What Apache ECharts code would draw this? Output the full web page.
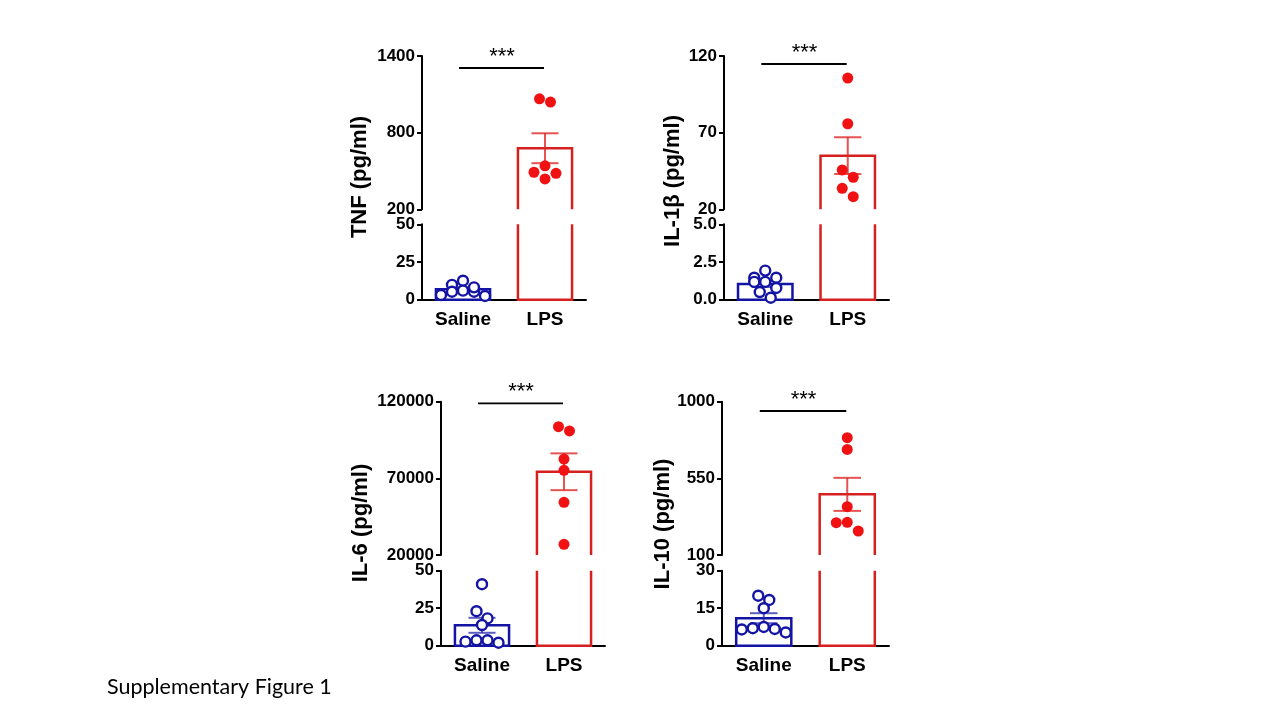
<!DOCTYPE html>
<html>
<head>
<meta charset="utf-8">
<script src="https://cdn.jsdelivr.net/npm/echarts@6/dist/echarts.min.js"></script>
<style>
  html, body { margin: 0; padding: 0; background: #fff; }
  #chart { width: 1280px; height: 720px; }
</style>
</head>
<body>
<div id="chart"></div>
<script>
// groups on the x axis
var categories = ['Saline', 'LPS'];

// TNF (pg/ml)
var tnfSaline = [9.8, 12.6, 6.0, 5.3, 2.5, 3.1, 5.3, 8.2];
var tnfLPS = [1039, 1065, 540, 490, 482, 438];
var tnfMean = [6.9, 678];
var tnfSem = [1.2, 117];
var tnfUpperTicks = [200, 800, 1400];
var tnfLowerTicks = [0, 25, 50];

// IL-1beta (pg/ml)
var il1bSaline = [1.46, 1.93, 1.46, 1.18, 1.18, 0.78, 0.51, 0.13];
var il1bLPS = [105.6, 75.8, 45.7, 40.9, 33.7, 28.2];
var il1bMean = [1.04, 55];
var il1bSem = [0.2, 12];
var il1bUpperTicks = [20, 70, 120];
var il1bLowerTicks = [0, 2.5, 5];

// IL-6 (pg/ml)
var il6Saline = [41, 23, 18.2, 13.8, 3.6, 2.0, 2.7, 3.6];
var il6LPS = [103700, 100900, 82600, 75250, 54380, 26980];
var il6Mean = [13.6, 74300];
var il6Sem = [5, 12000];
var il6UpperTicks = [20000, 70000, 120000];
var il6LowerTicks = [0, 25, 50];

// IL-10 (pg/ml)
var il10Saline = [20, 18.3, 15, 7.5, 6.7, 5.3, 6.5, 7];
var il10LPS = [788.6, 720, 383.6, 292, 289.6, 240.9];
var il10Mean = [11, 456];
var il10Sem = [2, 97];
var il10UpperTicks = [100, 550, 1000];
var il10LowerTicks = [0, 15, 30];

var FONT = "'Liberation Sans', Arial, sans-serif";
var BLUE = '#1414A4';
var RED_BAR = '#D62020';
var RED_DOT = '#F01212';
var ERR_COLORS = ['rgba(40,40,170,0.75)', 'rgba(222,40,40,0.8)'];
var BAR_COLORS = [BLUE, RED_BAR];

// panel data + layout (pixels)
var panels = [
  { name: 'TNF (pg/ml)', groups: [tnfSaline, tnfLPS], mean: tnfMean, sem: tnfSem, up: tnfUpperTicks, low: tnfLowerTicks, lowDigits: 0,
    x0: 422, x1: 586, yTop: 56, yBrkA: 209.3, yBrkB: 224.3, yBot: 299.7, titleX: 360, titleY: 177, sigOff: 12 },
  { name: 'IL-1β (pg/ml)', groups: [il1bSaline, il1bLPS], mean: il1bMean, sem: il1bSem, up: il1bUpperTicks, low: il1bLowerTicks, lowDigits: 1,
    x0: 724, x1: 889, yTop: 56, yBrkA: 209.3, yBrkB: 224.3, yBot: 299.7, titleX: 673, titleY: 181, sigOff: 8 },
  { name: 'IL-6 (pg/ml)', groups: [il6Saline, il6LPS], mean: il6Mean, sem: il6Sem, up: il6UpperTicks, low: il6LowerTicks, lowDigits: 0,
    x0: 441, x1: 605, yTop: 401.7, yBrkA: 555, yBrkB: 570.7, yBot: 645.7, titleX: 361, titleY: 523, sigOff: 1.6 },
  { name: 'IL-10 (pg/ml)', groups: [il10Saline, il10LPS], mean: il10Mean, sem: il10Sem, up: il10UpperTicks, low: il10LowerTicks, lowDigits: 0,
    x0: 722, x1: 889, yTop: 401.7, yBrkA: 555, yBrkB: 570.7, yBot: 645.7, titleX: 663, titleY: 524, sigOff: 9.3 }
];

function clamp(v, a, b) { return Math.max(a, Math.min(b, v)); }

// open-ended bar outline, so the broken axis shows the bar running through the gap
function renderBar(params, api) {
  var cat = api.value(0), val = api.value(1);
  var cs = params.coordSys;
  var topPt = api.coord([cat, val]);
  var basePt = api.coord([cat, 0]);
  var yMin = cs.y, yMax = cs.y + cs.height;
  if (topPt[1] > yMax + 0.5) return null;
  var w = api.size([1, 0])[0] * 0.66;
  var x0 = topPt[0] - w / 2, x1 = topPt[0] + w / 2;
  var topIn = topPt[1] >= yMin - 0.5;
  var baseIn = basePt[1] <= yMax + 0.5;
  var yt = clamp(topPt[1], yMin, yMax), yb = clamp(basePt[1], yMin, yMax);
  var style = { stroke: BAR_COLORS[cat], lineWidth: 2.5, fill: 'none' };
  if (topIn && baseIn) {
    return { type: 'rect', shape: { x: x0, y: yt, width: w, height: yb - yt }, style: style };
  }
  var pts;
  if (topIn) pts = [[x0, yb], [x0, yt], [x1, yt], [x1, yb]];
  else if (baseIn) pts = [[x0, yt], [x0, yb], [x1, yb], [x1, yt]];
  else {
    return { type: 'group', children: [
      { type: 'line', shape: { x1: x0, y1: yt, x2: x0, y2: yb }, style: style },
      { type: 'line', shape: { x1: x1, y1: yt, x2: x1, y2: yb }, style: style }
    ] };
  }
  return { type: 'polyline', shape: { points: pts }, style: style };
}

function renderErr(params, api) {
  var cat = api.value(0), m = api.value(1), s = api.value(2);
  var cs = params.coordSys;
  var yMin = cs.y, yMax = cs.y + cs.height;
  var hi = api.coord([cat, m + s]), lo = api.coord([cat, m - s]);
  if (hi[1] > yMax || lo[1] < yMin) return null;
  var cw = api.size([1, 0])[0] * 0.33;
  var x = hi[0];
  var style = { stroke: ERR_COLORS[cat], lineWidth: 2 };
  var kids = [{ type: 'line', shape: { x1: x, y1: clamp(hi[1], yMin, yMax), x2: x, y2: clamp(lo[1], yMin, yMax) }, style: style }];
  if (hi[1] >= yMin) kids.push({ type: 'line', shape: { x1: x - cw / 2, y1: hi[1], x2: x + cw / 2, y2: hi[1] }, style: style });
  if (lo[1] <= yMax) kids.push({ type: 'line', shape: { x1: x - cw / 2, y1: lo[1], x2: x + cw / 2, y2: lo[1] }, style: style });
  return { type: 'group', children: kids };
}

function makeSigRender(off) {
  return function (params, api) {
    var cs = params.coordSys;
    var a = api.coord([0, 0]), b = api.coord([1, 0]);
    var y = cs.y + off;
    return { type: 'group', children: [
      { type: 'line', shape: { x1: a[0] - 4, y1: y, x2: b[0] - 1, y2: y }, style: { stroke: '#000', lineWidth: 1.8 } },
      { type: 'text', style: { x: (a[0] + b[0]) / 2 - 2, y: y - 11, text: '***', fill: '#000', fontSize: 22, fontFamily: FONT, align: 'center', verticalAlign: 'middle' } }
    ] };
  };
}

var tickLabel = { color: '#000', fontWeight: 'bold', fontSize: 17, fontFamily: FONT, margin: 7 };
var axisLine = { show: true, lineStyle: { color: '#000', width: 2 } };

function buildOption(offsets) {
  var grid = [], xAxis = [], yAxis = [], series = [], graphic = [];
  panels.forEach(function (p, i) {
    var gu = 2 * i, gl = 2 * i + 1;
    grid.push({ left: p.x0, top: p.yTop, width: p.x1 - p.x0, height: p.yBrkA - p.yTop });
    grid.push({ left: p.x0, top: p.yBrkB, width: p.x1 - p.x0, height: p.yBot - p.yBrkB });
    xAxis.push({ type: 'category', gridIndex: gu, data: categories, show: false });
    xAxis.push({ type: 'category', gridIndex: gl, data: categories,
      axisLine: axisLine,
      axisTick: { alignWithLabel: true, length: 5, lineStyle: { color: '#000', width: 2 } },
      axisLabel: { color: '#000', fontWeight: 'bold', fontSize: 19, fontFamily: FONT, margin: 11 } });
    yAxis.push({ type: 'value', gridIndex: gu, min: p.up[0], max: p.up[p.up.length - 1],
      axisLine: axisLine, splitLine: { show: false },
      axisTick: { show: true, length: 5, customValues: p.up, lineStyle: { color: '#000', width: 2 } },
      axisLabel: Object.assign({ customValues: p.up, formatter: function (v) { return String(v); } }, tickLabel) });
    yAxis.push({ type: 'value', gridIndex: gl, min: p.low[0], max: p.low[p.low.length - 1],
      axisLine: axisLine, splitLine: { show: false },
      axisTick: { show: true, length: 5, customValues: p.low, lineStyle: { color: '#000', width: 2 } },
      axisLabel: Object.assign({ customValues: p.low, formatter: (function (d) { return function (v) { return v.toFixed(d); }; })(p.lowDigits) }, tickLabel) });

    var barData = p.mean.map(function (m, k) { return [k, m]; });
    var errData = p.mean.map(function (m, k) { return [k, m, p.sem[k]]; });
    [gu, gl].forEach(function (g) {
      series.push({ type: 'custom', xAxisIndex: g, yAxisIndex: g, data: barData, renderItem: renderBar, clip: false, silent: true });
      series.push({ type: 'custom', xAxisIndex: g, yAxisIndex: g, data: errData, renderItem: renderErr, clip: false, silent: true });
    });

    // dots: each point goes to the segment that holds its value
    p.groups.forEach(function (vals, k) {
      var lowMax = p.low[p.low.length - 1];
      [gu, gl].forEach(function (g) {
        var data = [];
        vals.forEach(function (v, j) {
          var inLow = v <= lowMax;
          if ((g === gl) !== inLow) return;
          var dx = offsets ? offsets[i][k][j] : 0;
          data.push({ value: [k, v], symbolOffset: [dx, 0] });
        });
        if (!data.length) return;
        series.push({ type: 'scatter', xAxisIndex: g, yAxisIndex: g, data: data, silent: true,
          symbol: 'circle',
          symbolSize: k === 0 ? 10 : 11,
          itemStyle: k === 0 ? { color: '#fff', borderColor: BLUE, borderWidth: 2.4, opacity: 1 } : { color: RED_DOT, opacity: 1 } });
      });
    });

    series.push({ type: 'custom', xAxisIndex: gu, yAxisIndex: gu, data: [[0, 0]], renderItem: makeSigRender(p.sigOff), clip: false, silent: true });

    graphic.push({ type: 'text', x: p.titleX, y: p.titleY, rotation: Math.PI / 2,
      style: { text: p.name, fill: '#000', fontSize: 22, fontWeight: 'bold', fontFamily: FONT, align: 'center', verticalAlign: 'middle' } });
  });
  graphic.push({ type: 'text', x: 107, y: 687,
    style: { text: 'Supplementary Figure 1', fill: '#000', fontSize: 21.5, fontFamily: "Lato, 'Open Sans', sans-serif", verticalAlign: 'middle' } });

  return { animation: false, backgroundColor: '#fff', grid: grid, xAxis: xAxis, yAxis: yAxis, series: series, graphic: graphic };
}

// scatter-dot layout: dots in the same horizontal band are spread out and centred
function rowLayout(ys, binH, step) {
  var order = ys.map(function (y, i) { return i; }).sort(function (a, b) { return ys[a] - ys[b]; });
  var dx = [], row = [], start = 0;
  function flush() {
    var n = row.length, pos = [];
    for (var j = 0; j < n; j++) pos.push((j - (n - 1) / 2) * step);
    pos.sort(function (a, b) { return Math.abs(a) - Math.abs(b) || a - b; });
    row.forEach(function (idx, r) { dx[idx] = pos[r]; });
    row = [];
  }
  order.forEach(function (i) {
    if (row.length && ys[i] - start >= binH) flush();
    if (!row.length) start = ys[i];
    row.push(i);
  });
  if (row.length) flush();
  return dx;
}

var myChart = echarts.init(document.getElementById('chart'), null, { renderer: 'canvas' });
myChart.setOption(buildOption(null));

var offsets = panels.map(function (p, i) {
  var lowMax = p.low[p.low.length - 1];
  return p.groups.map(function (vals, k) {
    var ys = vals.map(function (v) {
      var g = v <= lowMax ? 2 * i + 1 : 2 * i;
      return myChart.convertToPixel({ gridIndex: g }, [k, v])[1];
    });
    return rowLayout(ys, 9, 11);
  });
});
myChart.setOption(buildOption(offsets), true);
</script>
</body>
</html>
